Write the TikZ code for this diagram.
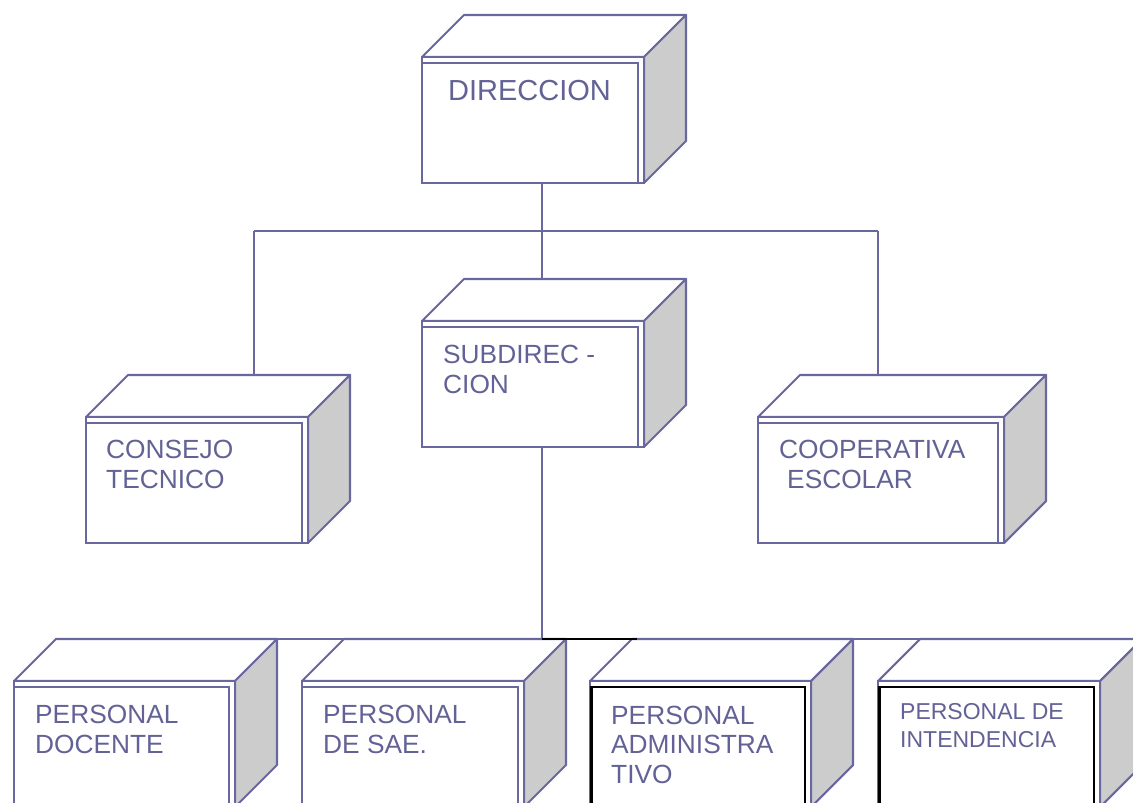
\documentclass[tikz,border=0pt]{standalone}
\usepackage{fontspec}
\setmainfont{Liberation Sans}
\usetikzlibrary{calc}
\definecolor{ln}{RGB}{104,104,158}
\definecolor{tx}{RGB}{98,98,150}
\definecolor{sd}{RGB}{204,204,204}
\tikzset{
  edge/.style={draw=ln, line width=2.1pt},
  front/.style={draw=ln, fill=white, line width=2.1pt, rectangle, anchor=north west,
    minimum height=126pt, inner sep=0pt, outer sep=0pt},
  lbl/.style={text=tx, anchor=base west, inner sep=0pt, align=left,
    font=\fontsize{26.3}{29.5}\selectfont},
  lblsmall/.style={lbl, font=\fontsize{23}{28}\selectfont},
}
\newcommand\cubebox[6]{% name, left, top, width, inner colour, inner left offset
  \coordinate (#1-ftl) at (#2,#3);
  \coordinate (#1-ftr) at (#2+#4,#3);
  \coordinate (#1-fbr) at (#2+#4,#3+126);
  \coordinate (#1-btl) at (#2+42,#3-42);
  \coordinate (#1-btr) at (#2+#4+42,#3-42);
  \coordinate (#1-bbr) at (#2+#4+42,#3+84);
  \filldraw[edge, fill=white, line join=round] (#1-ftl) -- (#1-btl) -- (#1-btr) -- (#1-ftr) -- cycle;
  \filldraw[edge, fill=sd, line join=round] (#1-ftr) -- (#1-btr) -- (#1-bbr) -- (#1-fbr) -- cycle;
  \node[front, minimum width=#4pt] (#1) at (#2,#3) {};
  \draw[line width=2.1pt, draw=#5] ($(#1.north west)+(#6,6)$) rectangle ($(#1.south east)+(-6,0)$);
}
\begin{document}
\begin{tikzpicture}[x=1pt, y=-1pt]
  \useasboundingbox[fill=white] (0,0) rectangle (1133,803);

  % junction points
  \coordinate (jl) at (254,231);
  \coordinate (jt) at (542,231);
  \coordinate (jr) at (878,231);
  \coordinate (jb) at (542,639);
  \coordinate (je) at (637,639);

  % boxes
  \cubebox{dir}{422}{57}{222}{ln}{0}
  \cubebox{sub}{422}{321}{222}{ln}{0}
  \cubebox{cons}{86}{417}{222}{ln}{0}
  \cubebox{coop}{758}{417}{246}{ln}{0}

  % upper connectors
  \draw[edge] (jl) -- (jr);
  \draw[edge] (dir.south -| jt) -- (jt);
  \draw[edge] (jt) -- (jt |- sub-btl);
  \draw[edge] (jl) -- (jl |- cons-btl);
  \draw[edge] (jr) -- (jr |- coop-btl);
  \draw[edge] (sub.south -| jb) -- (jb);
  \draw[edge] (jb -| 55,0) -- (jb -| 1140,0);

  \cubebox{p1}{14}{681}{221}{ln}{0}
  \cubebox{p2}{302}{681}{222}{ln}{0}
  \cubebox{p3}{590}{681}{221}{black}{1.5}
  \cubebox{p4}{878}{681}{222}{black}{1.5}

  \draw[line width=2.1pt, black] (jb) -- (je);

  % labels
  \node[lbl, font=\fontsize{29}{30}\selectfont] (dir-t) at (448,100) {DIRECCION};
  \node[lbl] (sub-t) at (443,393) {SUBDIREC -\\CION};
  \node[lbl] (cons-t) at (106,488) {CONSEJO\\TECNICO};
  \node[lbl] (coop-t) at (779,488) {COOPERATIVA\\\hspace*{8pt}ESCOLAR};
  \node[lbl] (p1-t) at (35,753) {PERSONAL\\DOCENTE};
  \node[lbl] (p2-t) at (323,753) {PERSONAL\\DE SAE.};
  \node[lbl] (p3-t) at (611,783) {PERSONAL\\ADMINISTRA\\TIVO};
  \node[lblsmall] (p4-t) at (900,747) {PERSONAL DE\\INTENDENCIA};
\end{tikzpicture}
\end{document}
